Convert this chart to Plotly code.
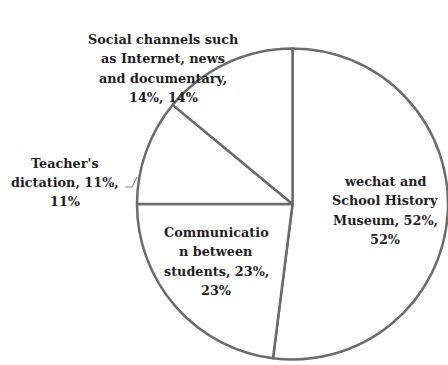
import plotly.graph_objects as go

categories = ["wechat and School History Museum",
              "Communication between students",
              "Teacher's dictation",
              "Social channels such as Internet, news and documentary"]
values = [52, 23, 11, 14]
# label lines as wrapped in the original chart
label_lines = [
    ["wechat and", "School History", "Museum, 52%,", "52%"],
    ["Communicatio", "n between", "students, 23%,", "23%"],
    ["Teacher's", "dictation, 11%,", "11%"],
    ["Social channels such", "as Internet, news", "and documentary,", "14%, 14%"],
]

W, H = 448, 365
# label block placement (pixel centre x, first line centre y)
label_pos = [(385, 181), (216, 232), (65, 163), (163, 39)]
line_step = 19.5

fig = go.Figure(go.Pie(
    labels=categories, values=values, sort=False, direction="clockwise",
    rotation=0, textinfo="none", hoverinfo="label+percent",
    marker=dict(colors=["white"] * 4, line=dict(color="#6b6b6b", width=2.5)),
    domain=dict(x=[137 / W, 1.0], y=[1 - 360 / H, 1 - 48 / H]),
    showlegend=False,
))

annotations = []
for lines, (cx, cy) in zip(label_lines, label_pos):
    for i, t in enumerate(lines):
        annotations.append(dict(
            text="<b>" + t + "</b>", x=cx / W, y=1 - (cy + i * line_step) / H,
            xref="paper", yref="paper", xanchor="center", yanchor="middle",
            showarrow=False,
            font=dict(family="DejaVu Serif", size=12.8, color="#1e1e1e"),
        ))

fig.add_shape(type="path", xref="paper", yref="paper",
              path=f"M {125/W} {1-187/H} L {132/W} {1-187/H} L {137/W} {1-177/H}",
              line=dict(color="#8a8a8a", width=1.2))

fig.update_layout(
    width=W, height=H, margin=dict(l=0, r=0, t=0, b=0),
    paper_bgcolor="white", plot_bgcolor="white",
    annotations=annotations,
)
fig.write_html("out.html")
